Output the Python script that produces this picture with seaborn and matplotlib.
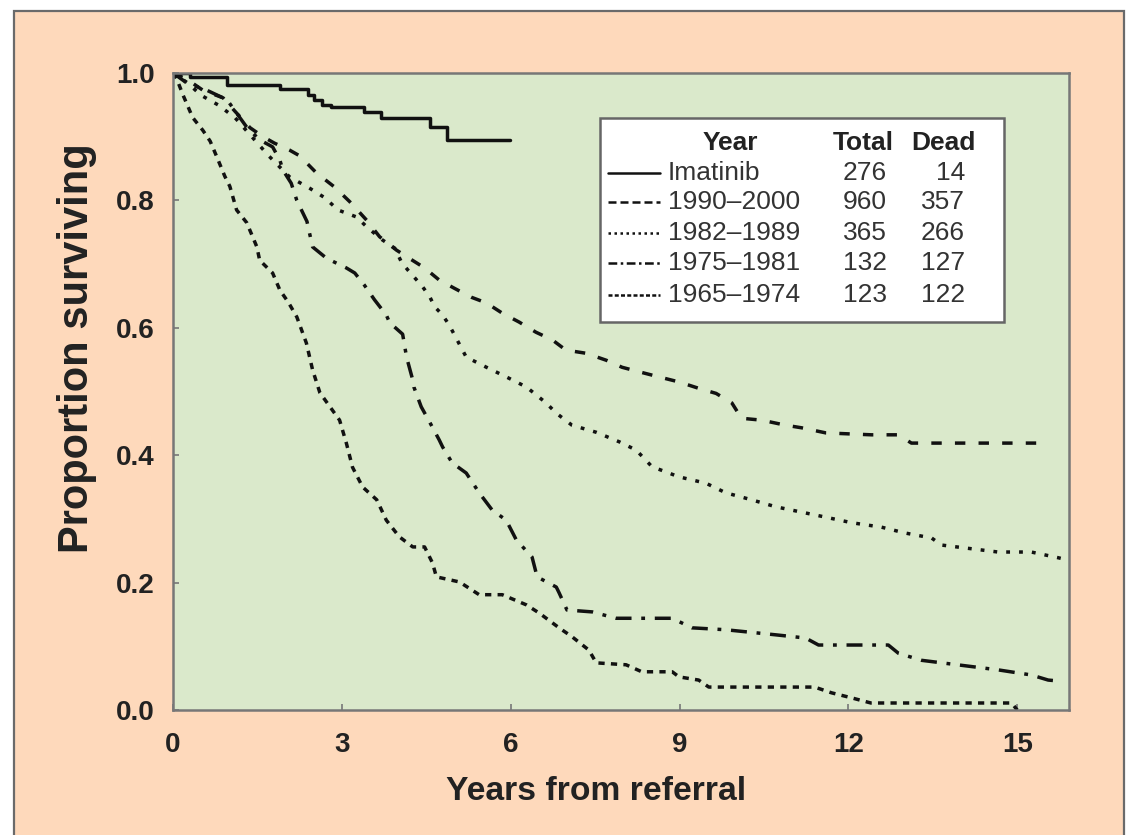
import numpy as np
import pandas as pd
import matplotlib
matplotlib.use("Agg")
import matplotlib.pyplot as plt
import seaborn as sns
from matplotlib.patches import Rectangle
from matplotlib.lines import Line2D

# ---------------- data ----------------
imatinib_x = [0, 0.3, 0.96, 1.9, 2.4, 2.5, 2.65, 2.8, 3.4, 3.7, 4.56, 4.86, 5.98]
imatinib_y = [1.0, 0.994, 0.981, 0.975, 0.965, 0.957, 0.95, 0.947, 0.939, 0.929, 0.915, 0.895, 0.895]

p1990_x = [0, 0.25, 0.53, 0.89, 1.1, 1.37, 1.6, 1.8, 2.07, 2.25, 2.55, 2.87, 3.14, 3.44, 3.67, 3.97,
           4.2, 4.47, 4.73, 5.0, 5.3, 5.57, 5.85, 6.15, 6.45, 6.74, 6.98, 7.34, 7.7, 7.98, 8.28, 8.63,
           8.99, 9.34, 9.65, 9.93, 10.1, 10.46, 10.89, 11.17, 11.6, 12.41, 12.89, 13.12, 15.46]
p1990_y = [1.0, 0.99, 0.973, 0.961, 0.94, 0.914, 0.9, 0.89, 0.879, 0.87, 0.843, 0.821, 0.798, 0.769,
           0.743, 0.722, 0.709, 0.694, 0.675, 0.662, 0.648, 0.639, 0.623, 0.609, 0.593, 0.581, 0.565,
           0.56, 0.549, 0.538, 0.531, 0.523, 0.515, 0.505, 0.497, 0.482, 0.458, 0.455, 0.447, 0.443,
           0.435, 0.432, 0.432, 0.419, 0.419]

p1982_x = [0, 0.25, 0.5, 0.8, 1.1, 1.4, 1.7, 2.07, 2.43, 2.7, 2.93, 3.26, 3.46, 3.72, 3.94, 4.06, 4.17,
           4.43, 4.56, 4.65, 4.79, 4.91, 5.0, 5.21, 5.57, 5.92, 6.28, 6.63, 6.81, 7.09, 7.52, 7.93,
           8.23, 8.51, 8.99, 9.47, 9.82, 10.28, 10.71, 11.42, 12.06, 12.59, 13.0, 13.48, 13.65, 14.66,
           15.25, 15.73, 15.92]
p1982_y = [1.0, 0.985, 0.965, 0.95, 0.93, 0.9, 0.87, 0.837, 0.819, 0.804, 0.785, 0.774, 0.757, 0.738,
           0.725, 0.703, 0.691, 0.665, 0.649, 0.633, 0.62, 0.604, 0.589, 0.554, 0.538, 0.523, 0.507,
           0.482, 0.466, 0.447, 0.436, 0.421, 0.408, 0.382, 0.366, 0.356, 0.341, 0.33, 0.319, 0.306,
           0.294, 0.287, 0.278, 0.27, 0.259, 0.248, 0.248, 0.239, 0.235]

p1975_x = [0, 0.25, 0.6, 0.96, 1.13, 1.31, 1.54, 1.77, 1.9, 1.95, 2.1, 2.2, 2.38, 2.48, 2.73, 3.08,
           3.23, 3.4, 3.58, 3.79, 3.85, 4.08, 4.15, 4.26, 4.28, 4.41, 4.56, 4.73, 4.79, 4.96, 5.21,
           5.44, 5.67, 5.92, 6.1, 6.38, 6.47, 6.81, 6.86, 7.0, 7.45, 7.87, 8.87, 9.22, 9.82, 10.71,
           11.24, 11.47, 12.71, 12.89, 13.3, 14.66, 15.25, 15.55, 15.8]
p1975_y = [1.0, 0.984, 0.973, 0.958, 0.937, 0.915, 0.895, 0.884, 0.863, 0.848, 0.827, 0.8, 0.767,
           0.727, 0.709, 0.694, 0.686, 0.667, 0.644, 0.62, 0.608, 0.59, 0.554, 0.518, 0.507, 0.476,
           0.452, 0.424, 0.413, 0.388, 0.372, 0.341, 0.314, 0.298, 0.267, 0.24, 0.209, 0.193, 0.184,
           0.157, 0.154, 0.144, 0.144, 0.129, 0.126, 0.118, 0.113, 0.102, 0.102, 0.089, 0.078, 0.063,
           0.055, 0.047, 0.045]

p1965_x = [0, 0.07, 0.18, 0.35, 0.53, 0.66, 0.78, 0.92, 1.01, 1.13, 1.31, 1.49, 1.54, 1.77, 1.9, 2.05,
           2.2, 2.37, 2.48, 2.61, 2.96, 3.08, 3.19, 3.37, 3.62, 3.79, 4.02, 4.26, 4.47, 4.61, 4.68,
           5.09, 5.44, 5.85, 6.28, 6.51, 6.86, 7.09, 7.39, 7.52, 8.05, 8.33, 8.87, 8.99, 9.34, 9.52,
           11.4, 11.7, 12.06, 12.4, 14.9, 15.0]
p1965_y = [1.0, 0.99, 0.965, 0.93, 0.91, 0.893, 0.868, 0.838, 0.822, 0.785, 0.765, 0.727, 0.706,
           0.686, 0.659, 0.64, 0.617, 0.576, 0.534, 0.498, 0.455, 0.419, 0.381, 0.35, 0.33, 0.298,
           0.272, 0.256, 0.256, 0.231, 0.209, 0.201, 0.181, 0.181, 0.165, 0.152, 0.129, 0.115, 0.094,
           0.074, 0.071, 0.06, 0.06, 0.052, 0.047, 0.036, 0.036, 0.027, 0.019, 0.011, 0.011, 0.0]

legend_years = ["Imatinib", "1990\u20132000", "1982\u20131989", "1975\u20131981", "1965\u20131974"]
legend_total = ["276", "960", "365", "132", "123"]
legend_dead = ["14", "357", "266", "127", "122"]

x_ticks = [0, 3, 6, 9, 12, 15]
y_ticks = [0.0, 0.2, 0.4, 0.6, 0.8, 1.0]

# ---------------- style ----------------
sns.set_style("ticks")
plt.rcParams["font.family"] = ["Liberation Sans", "DejaVu Sans"]

PEACH = "#FED9BB"
GREEN = "#DAE9CB"
INK = "#222222"
LINE = "#111111"
SPINE = "#777777"

fig = plt.figure(figsize=(11.27, 8.35), dpi=100)
fig.patch.set_facecolor("white")
frame = Rectangle((14 / 1127, -0.02), (1124 - 14) / 1127, 1 - 11 / 835 + 0.02,
                  transform=fig.transFigure, facecolor=PEACH,
                  edgecolor="#6a6a6a", linewidth=1.6, zorder=-10)
fig.patches.append(frame)

ax = fig.add_axes([173 / 1127, 1 - 710 / 835, (1069 - 173) / 1127, (710 - 73) / 835])
ax.set_zorder(1)
ax.set_facecolor(GREEN)

LW = 2.5
series = [
    (imatinib_x, imatinib_y, "-", "steps-post"),
    (p1990_x, p1990_y, (0, (3.0, 3.8)), "default"),
    (p1982_x, p1982_y, (0, (1.1, 2.6)), "default"),
    (p1975_x, p1975_y, (0, (4.6, 2.8, 1.1, 2.8)), "default"),
    (p1965_x, p1965_y, (0, (1.8, 1.8)), "default"),
]
for (xs, ys, ls, ds), name in zip(series, legend_years):
    df = pd.DataFrame({"x": xs, "y": ys})
    sns.lineplot(data=df, x="x", y="y", ax=ax, color=LINE, linewidth=LW,
                 linestyle=ls, drawstyle=ds, sort=False, estimator=None,
                 errorbar=None, legend=False)

ax.set_xlim(0, 15.92)
ax.set_ylim(0, 1.0)
ax.set_xticks(x_ticks)
ax.set_yticks(y_ticks)
ax.set_xticklabels([str(t) for t in x_ticks])
ax.set_yticklabels([f"{t:.1f}" for t in y_ticks])
ax.tick_params(axis="both", direction="in", length=4, width=1.2, color=SPINE,
               labelsize=20, labelcolor=INK)
ax.tick_params(axis="x", pad=16)
ax.tick_params(axis="y", pad=13)
for lab in ax.get_xticklabels() + ax.get_yticklabels():
    lab.set_fontweight("bold")
for sp in ax.spines.values():
    sp.set_color(SPINE)
    sp.set_linewidth(1.8)

ax.set_xlabel("Years from referral", fontsize=24.2, fontweight="bold", color=INK)
ax.set_ylabel("Proportion surviving", fontsize=30, fontweight="bold", color=INK)
ax.xaxis.set_label_coords((596.5 - 173) / 896, (710 - 776) / 637)
ax.yaxis.set_label_coords((97 - 173) / 896, (710 - 348) / 637)

# ---------------- legend table ----------------
def axp(px, py):
    return ((px - 173) / 896, (710 - py) / 637)

bx0, by0 = axp(600, 322)
bx1, by1 = axp(1004, 118)
ax.add_patch(Rectangle((bx0, by0), bx1 - bx0, by1 - by0, transform=ax.transAxes,
                       facecolor="white", edgecolor="#666666", linewidth=1.8, zorder=5))

hy = axp(0, 143)[1]
ax.text(axp(730, 0)[0], hy, "Year", transform=ax.transAxes, ha="center", va="center",
        fontsize=19, fontweight="bold", color=INK, zorder=6)
ax.text(axp(894, 0)[0], hy, "Total", transform=ax.transAxes, ha="right", va="center",
        fontsize=19, fontweight="bold", color=INK, zorder=6)
ax.text(axp(976, 0)[0], hy, "Dead", transform=ax.transAxes, ha="right", va="center",
        fontsize=19, fontweight="bold", color=INK, zorder=6)

legend_styles = ["-", (0, (3.2, 1.6)), (0, (1.0, 1.4)), (0, (3.5, 1.4, 1.0, 1.4)), (0, (1.6, 0.9))]
row_py = [173, 202, 233, 263, 295]
for name, tot, dead, ls, py in zip(legend_years, legend_total, legend_dead, legend_styles, row_py):
    ry = axp(0, py)[1]
    lx0 = axp(608, 0)[0]
    lx1 = axp(660, 0)[0]
    ax.add_line(Line2D([lx0, lx1], [ry, ry], transform=ax.transAxes, color=LINE,
                       linewidth=1.8, linestyle=ls, zorder=6))
    ax.text(axp(668, 0)[0], ry, name, transform=ax.transAxes, ha="left", va="center",
            fontsize=19, color="#333333", zorder=6)
    ax.text(axp(887, 0)[0], ry, tot, transform=ax.transAxes, ha="right", va="center",
            fontsize=19, color="#333333", zorder=6)
    ax.text(axp(965, 0)[0], ry, dead, transform=ax.transAxes, ha="right", va="center",
            fontsize=19, color="#333333", zorder=6)

fig.savefig("out.png", dpi=100)
